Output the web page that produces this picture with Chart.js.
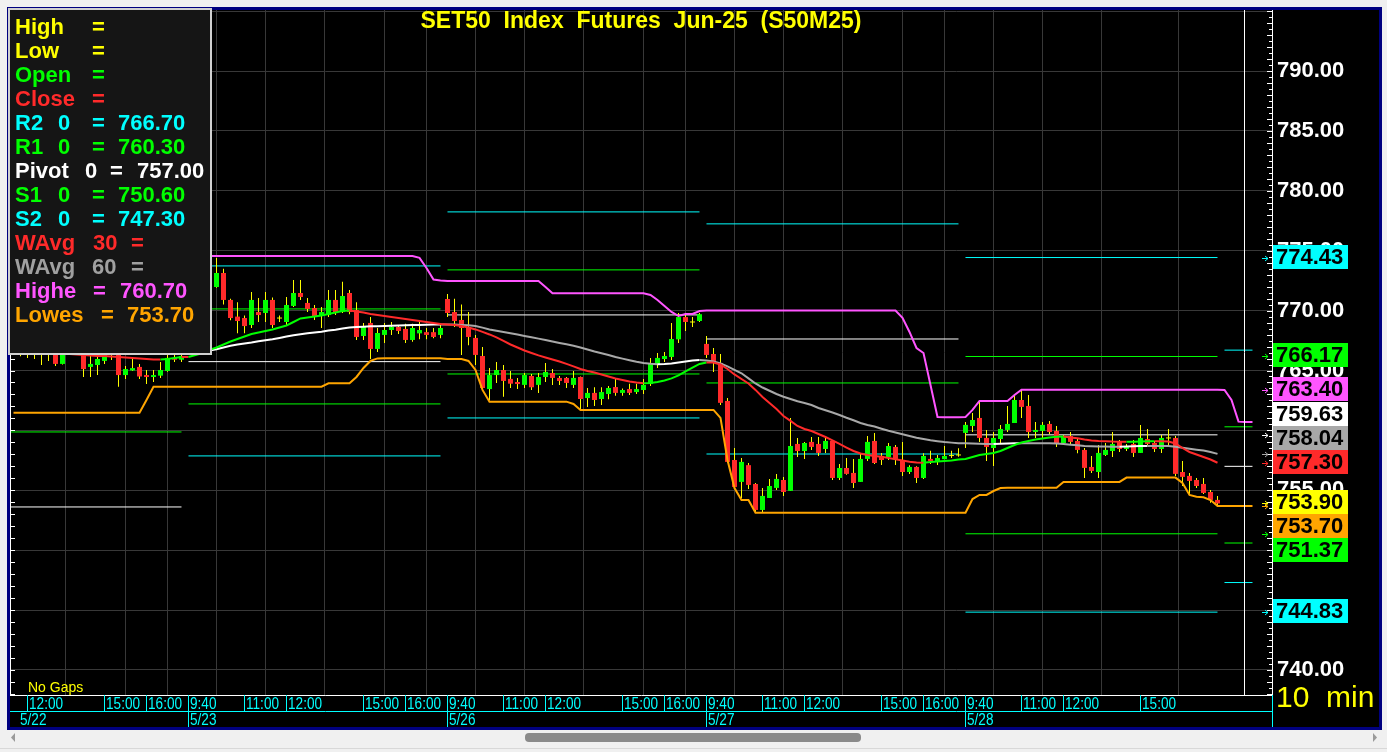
<!DOCTYPE html>
<html>
<head>
<meta charset="utf-8">
<script src="https://cdn.jsdelivr.net/npm/chart.js@4.4.1/dist/chart.umd.min.js"></script>
<style>
  html, body { margin: 0; padding: 0; background: #f0f0f0; overflow: hidden; }
  #wrap { position: absolute; left: 0; top: 0; width: 1387px; height: 752px; }
</style>
</head>
<body>
<div id="wrap"><canvas id="chart" width="1387" height="752"></canvas></div>
<script>
'use strict';

// ---- data (10 min bars, index 0 = 5/22 9:40) ----
const FIRST_BAR = 12;
const dayLabels = ['5/22', '5/23', '5/26', '5/27', '5/28'];
const dayStart = [0, 37, 74, 111, 148, 185];
const dayEnd = [36, 73, 110, 147, 184, 189];

const timeTicks = [14, 25, 31, 37, 45, 51, 62, 68, 74, 82, 88, 99, 105, 111, 119, 125, 136, 142, 148, 156, 162, 173];
const timeLabels = ['12:00', '15:00', '16:00', '9:40', '11:00', '12:00', '15:00', '16:00', '9:40', '11:00', '12:00', '15:00', '16:00',
  '9:40', '11:00', '12:00', '15:00', '16:00', '9:40', '11:00', '12:00', '15:00'];

const openV = [
  766.80, 766.70, 766.50, 766.70, 766.50, 766.50, 766.90, 765.55, 766.60, 767.00, 766.70, 765.30, 765.46, 765.80, 766.60, 766.50, 764.62, 765.00, 765.30, 764.62, 764.46, 764.57, 764.96, 766.05, 765.90,
  767.50, 769.60, 771.60, 773.00, 771.97, 773.14, 770.89, 769.50, 769.38, 768.80, 769.88, 769.80, 770.89, 769.38, 769.05, 770.39, 771.47, 770.64, 770.22, 769.63, 769.63, 770.89, 769.88, 771.47, 770.05, 767.88, 768.97, 766.80, 767.97, 768.38, 768.63, 768.47, 767.55, 768.10, 768.20, 768.20, 767.97,
  770.97, 769.88, 769.22, 768.63, 767.72, 766.21, 763.45, 764.62, 765.04, 764.30, 764.04, 763.80, 764.54, 763.80, 764.46, 764.79, 764.38, 764.38, 763.80, 764.46, 762.70, 763.13, 762.62, 763.04, 763.62, 763.13, 763.45, 763.20, 763.37, 763.87, 765.55, 765.96, 766.13, 767.60, 769.46, 769.05, 769.13,
  767.22, 766.38, 765.63, 762.46, 757.53, 755.70, 757.10, 755.53, 753.36, 754.36, 755.20, 755.86, 754.95, 758.87, 758.28, 759.04, 758.87, 758.45, 759.12, 756.03, 756.86, 756.45, 755.70, 757.62, 759.12, 757.87, 757.78, 758.62, 757.53, 756.53, 756.95, 756.03, 757.62, 757.45, 757.60, 757.90, 757.95,
  759.79, 760.37, 761.04, 759.37, 758.53, 759.28, 760.04, 760.62, 762.54, 762.04, 759.87, 759.96, 760.54, 759.96, 758.95, 759.53, 759.12, 758.37, 756.95, 756.53, 757.95, 758.28, 759.04, 758.45, 758.87, 758.12, 759.28, 758.95, 758.45, 759.37, 759.37, 756.53, 756.20, 755.86, 755.53, 754.86, 754.20
];
const highV = [
  767.00, 767.10, 767.30, 767.20, 766.90, 767.00, 767.20, 767.00, 767.40, 767.50, 767.00, 766.40, 766.40, 766.90, 767.00, 766.70, 765.38, 766.05, 765.55, 765.04, 765.04, 765.70, 766.30, 766.30, 766.60,
  770.00, 772.00, 773.50, 774.57, 774.39, 773.50, 771.00, 770.70, 769.60, 771.55, 771.05, 771.55, 771.10, 769.60, 771.14, 772.56, 772.56, 771.05, 770.47, 770.30, 771.72, 771.72, 772.40, 771.72, 770.70, 768.97, 769.46, 768.55, 768.97, 769.05, 768.80, 768.90, 768.90, 769.05, 768.55, 768.55, 768.80,
  771.39, 771.00, 770.50, 769.88, 767.97, 766.96, 765.20, 765.70, 765.46, 764.96, 764.38, 764.80, 764.70, 764.80, 765.63, 765.12, 764.54, 764.46, 764.96, 764.50, 763.54, 763.60, 763.60, 763.70, 764.30, 763.50, 763.90, 763.90, 764.30, 766.05, 766.46, 766.55, 768.97, 769.80, 769.80, 769.46, 769.80,
  767.89, 766.88, 766.38, 762.70, 758.53, 757.70, 757.28, 755.61, 755.20, 755.95, 756.37, 756.12, 761.04, 759.37, 759.04, 759.45, 759.45, 759.37, 759.20, 757.20, 757.70, 757.62, 758.03, 759.53, 759.79, 758.12, 758.95, 758.78, 759.04, 757.10, 757.00, 758.10, 758.30, 757.95, 758.70, 758.30, 758.50,
  760.71, 761.45, 762.37, 760.04, 759.87, 760.46, 762.04, 762.87, 763.40, 762.96, 760.70, 760.70, 760.79, 760.37, 759.62, 759.87, 759.37, 758.53, 757.87, 758.78, 758.95, 759.87, 759.20, 758.87, 759.20, 760.46, 760.12, 759.12, 759.62, 760.12, 759.53, 757.45, 756.45, 756.03, 756.03, 755.03, 754.53
];
const lowV = [
  766.40, 766.20, 766.04, 765.96, 765.46, 765.80, 765.38, 765.50, 766.40, 766.40, 764.46, 764.46, 764.62, 765.55, 765.88, 763.65, 764.30, 764.96, 764.30, 763.87, 764.04, 764.38, 764.90, 765.70, 765.70,
  767.20, 769.30, 771.20, 772.00, 771.90, 770.50, 769.20, 768.10, 768.10, 768.55, 769.05, 769.05, 768.55, 769.05, 768.80, 770.30, 770.89, 769.88, 769.22, 768.55, 769.46, 769.63, 769.80, 769.70, 767.55, 767.55, 765.97, 766.55, 767.30, 767.97, 768.05, 767.30, 767.40, 767.60, 767.60, 767.70, 767.70,
  769.46, 768.63, 766.30, 767.10, 765.46, 763.37, 762.54, 763.96, 762.80, 763.54, 763.45, 763.54, 763.37, 763.13, 764.04, 763.80, 763.80, 763.54, 763.54, 761.70, 761.96, 762.04, 762.13, 762.60, 762.90, 762.90, 762.96, 763.04, 763.04, 763.70, 765.20, 765.70, 765.88, 767.30, 768.30, 768.63, 769.05,
  766.05, 764.88, 762.13, 757.28, 755.20, 754.36, 755.11, 753.10, 753.10, 754.36, 755.03, 754.53, 754.95, 757.78, 757.62, 758.37, 757.87, 758.12, 755.86, 755.86, 756.30, 755.20, 755.70, 757.45, 757.20, 757.12, 757.53, 757.12, 756.20, 756.37, 755.61, 755.95, 757.20, 757.12, 757.60, 757.70, 757.80,
  758.53, 759.87, 759.04, 757.45, 757.03, 758.87, 759.87, 760.62, 761.04, 759.37, 759.37, 759.28, 759.70, 758.62, 758.87, 758.78, 758.10, 756.03, 756.45, 756.03, 757.87, 757.78, 758.20, 758.28, 757.78, 758.12, 758.78, 758.20, 758.12, 758.62, 756.20, 755.36, 754.70, 755.20, 754.70, 753.96, 753.70
];
const closeV = [
  766.55, 766.40, 766.80, 766.50, 766.40, 766.80, 765.55, 766.60, 767.00, 766.70, 765.12, 765.55, 765.96, 766.50, 766.35, 764.62, 765.12, 765.20, 764.50, 764.46, 764.62, 765.04, 766.05, 765.90, 766.20,
  769.60, 771.60, 773.00, 772.10, 773.14, 770.89, 769.38, 769.13, 768.71, 770.89, 769.63, 770.89, 768.80, 769.38, 770.47, 771.47, 771.14, 770.14, 769.55, 769.88, 770.89, 769.88, 771.22, 769.88, 767.80, 768.63, 766.80, 768.13, 768.38, 768.63, 768.30, 767.55, 768.55, 768.38, 767.97, 767.80, 768.55,
  769.80, 769.13, 768.55, 767.80, 766.30, 763.54, 764.62, 765.04, 764.13, 763.90, 763.87, 764.62, 763.60, 764.46, 764.88, 764.38, 764.13, 763.96, 764.38, 762.62, 763.13, 762.54, 763.20, 763.54, 763.13, 763.37, 763.13, 763.45, 763.80, 765.63, 766.05, 766.21, 767.63, 769.46, 769.05, 769.05, 769.70,
  766.30, 765.63, 762.30, 757.37, 755.28, 757.37, 755.45, 753.36, 754.53, 755.36, 755.95, 754.86, 758.70, 758.28, 758.95, 758.62, 758.12, 759.12, 756.03, 756.86, 756.37, 755.61, 757.62, 759.04, 757.28, 757.53, 758.70, 757.62, 756.53, 756.95, 756.03, 757.87, 757.45, 757.70, 757.87, 757.90, 757.95,
  760.46, 760.87, 759.37, 758.62, 759.37, 760.12, 760.54, 762.54, 761.96, 759.87, 760.04, 760.46, 759.87, 758.95, 759.53, 759.04, 758.37, 756.87, 756.62, 758.12, 758.37, 758.87, 758.45, 758.70, 758.12, 759.37, 758.87, 758.45, 759.37, 759.37, 756.37, 756.12, 755.78, 755.36, 754.78, 754.20, 753.90
];

const wavg30 = [
  766.55, 766.55, 766.51, 766.46, 766.46, 766.42, 766.38, 766.38, 766.38, 766.34, 766.30, 766.26, 766.21, 766.21, 766.17, 766.13, 766.09, 766.05, 766.01, 765.96, 765.92, 765.92, 765.96, 766.05, 766.13,
  766.13, 766.30, 766.46, 766.72, 766.92, 767.17, 767.42, 767.63, 767.84, 768.05, 768.18, 768.30, 768.43, 768.59, 768.76, 769.05, 769.35, 769.43, 769.51, 769.60, 769.72, 769.85, 769.97, 770.01, 769.93, 769.85, 769.72, 769.64, 769.55, 769.47, 769.39, 769.30, 769.22, 769.14, 769.05, 768.97, 768.89,
  768.85, 768.80, 768.72, 768.59, 768.43, 768.22, 768.01, 767.76, 767.47, 767.17, 766.92, 766.67, 766.46, 766.26, 766.09, 765.92, 765.75, 765.55, 765.34, 765.13, 764.96, 764.84, 764.67, 764.50, 764.34, 764.21, 764.09, 764.00, 763.93, 763.96, 764.04, 764.17, 764.34, 764.59, 764.92, 765.25, 765.55,
  765.67, 765.67, 765.50, 765.13, 764.67, 764.29, 763.92, 763.38, 762.79, 762.29, 761.79, 761.20, 760.79, 760.37, 760.12, 759.95, 759.70, 759.45, 759.16, 758.87, 758.57, 758.28, 758.07, 757.95, 757.86, 757.81, 757.70, 757.59, 757.49, 757.39, 757.32, 757.30, 757.36, 757.40, 757.45, 757.49, 757.57,
  757.61, 757.78, 757.95, 758.03, 758.11, 758.28, 758.53, 758.78, 758.99, 759.12, 759.24, 759.33, 759.41, 759.48, 759.49, 759.41, 759.34, 759.24, 759.16, 759.12, 759.10, 759.07, 759.06, 759.05, 759.06, 759.07, 759.09, 759.10, 759.10, 759.07, 758.91, 758.53, 758.20, 757.99, 757.78, 757.57, 757.30
];
const wavg60 = [
  766.38, 766.38, 766.38, 766.38, 766.38, 766.38, 766.38, 766.38, 766.42, 766.42, 766.42, 766.42, 766.42, 766.42, 766.42, 766.46, 766.46, 766.46, 766.46, 766.46, 766.51, 766.51, 766.51, 766.55, 766.55,
  766.55, 766.59, 766.63, 766.67, 766.77, 766.92, 767.07, 767.17, 767.26, 767.34, 767.44, 767.53, 767.61, 767.72, 767.83, 767.94, 768.03, 768.11, 768.18, 768.24, 768.33, 768.41, 768.51, 768.59, 768.64, 768.66, 768.69, 768.70, 768.72, 768.74, 768.75, 768.77, 768.79, 768.80, 768.82, 768.84, 768.85,
  768.85, 768.83, 768.80, 768.77, 768.72, 768.58, 768.43, 768.32, 768.22, 768.11, 768.00, 767.88, 767.77, 767.66, 767.55, 767.42, 767.30, 767.19, 767.07, 766.92, 766.76, 766.59, 766.44, 766.30, 766.13, 765.99, 765.86, 765.73, 765.63, 765.57, 765.53, 765.55, 765.59, 765.67, 765.75, 765.84, 765.88,
  765.84, 765.75, 765.59, 765.34, 765.05, 764.77, 764.34, 763.92, 763.58, 763.31, 763.04, 762.81, 762.62, 762.44, 762.29, 762.12, 761.87, 761.68, 761.50, 761.29, 761.06, 760.85, 760.62, 760.45, 760.32, 760.14, 759.97, 759.83, 759.68, 759.53, 759.39, 759.28, 759.17, 759.10, 759.03, 758.98, 758.93,
  758.92, 758.90, 758.88, 758.87, 758.87, 758.88, 758.90, 758.92, 758.93, 758.93, 758.93, 758.93, 758.92, 758.90, 758.87, 758.81, 758.76, 758.70, 758.68, 758.66, 758.65, 758.64, 758.64, 758.65, 758.67, 758.69, 758.70, 758.70, 758.70, 758.70, 758.64, 758.55, 758.47, 758.39, 758.32, 758.20, 758.04
];
// highest high / lowest low, five extra points into the next session
const highe = [
  774.56, 774.56, 774.56, 774.56, 774.56, 774.56, 774.56, 774.56, 774.56, 774.56, 774.56, 774.56, 774.56, 774.56, 774.56, 774.56, 774.56, 774.56, 774.56, 774.56, 774.56, 774.56, 774.56, 774.56, 774.56,
  774.56, 774.56, 774.56, 774.56, 774.56, 774.56, 774.56, 774.56, 774.56, 774.56, 774.56, 774.56, 774.56, 774.56, 774.56, 774.56, 774.56, 774.56, 774.56, 774.56, 774.56, 774.56, 774.56, 774.56, 774.56, 774.56, 774.56, 774.56, 774.56, 774.56, 774.56, 774.56, 774.56, 774.40, 773.56, 772.60, 772.52,
  772.48, 772.48, 772.48, 772.48, 772.48, 772.48, 772.48, 772.48, 772.48, 772.48, 772.48, 772.48, 772.48, 772.48, 771.98, 771.45, 771.45, 771.45, 771.45, 771.45, 771.45, 771.45, 771.45, 771.45, 771.45, 771.45, 771.45, 771.45, 771.45, 771.31, 770.89, 770.39, 769.89, 769.55, 769.72, 769.72, 769.97,
  770.00, 770.00, 770.00, 770.00, 770.00, 770.00, 770.00, 770.00, 770.00, 770.00, 770.00, 770.00, 770.00, 770.00, 770.00, 770.00, 770.00, 770.00, 770.00, 770.00, 770.00, 770.00, 770.00, 770.00, 770.00, 770.00, 770.00, 770.00, 769.39, 768.22, 766.88, 766.46, 763.79, 761.12, 761.10, 761.10, 761.10,
  761.12, 761.71, 762.46, 762.46, 762.46, 762.46, 762.46, 762.96, 763.40, 763.40, 763.40, 763.40, 763.40, 763.40, 763.40, 763.40, 763.40, 763.40, 763.40, 763.40, 763.40, 763.40, 763.40, 763.40, 763.40, 763.40, 763.40, 763.40, 763.40, 763.40, 763.40, 763.40, 763.40, 763.40, 763.40, 763.40, 763.40,
  763.37, 762.54, 760.73, 760.70, 760.70
];
const lowes = [
  761.48, 761.48, 761.48, 761.48, 761.48, 761.48, 761.48, 761.48, 761.48, 761.48, 761.48, 761.48, 761.48, 761.48, 761.48, 761.48, 761.48, 761.48, 761.48, 762.54, 763.65, 763.65, 763.65, 763.65, 763.65,
  763.65, 763.65, 763.65, 763.65, 763.65, 763.65, 763.65, 763.65, 763.65, 763.65, 763.65, 763.65, 763.65, 763.65, 763.65, 763.65, 763.65, 763.65, 763.65, 763.65, 763.93, 763.93, 763.93, 763.93, 764.46, 765.21, 765.80, 766.01, 766.02, 766.02, 766.02, 766.02, 766.02, 766.02, 766.02, 766.02, 766.02,
  765.96, 765.96, 765.96, 765.80, 765.05, 763.38, 762.40, 762.40, 762.40, 762.40, 762.40, 762.40, 762.40, 762.40, 762.40, 762.40, 762.40, 762.40, 762.21, 761.71, 761.71, 761.71, 761.71, 761.71, 761.71, 761.71, 761.71, 761.71, 761.71, 761.71, 761.71, 761.71, 761.71, 761.71, 761.71, 761.71, 761.71,
  761.71, 761.71, 761.04, 757.53, 755.19, 754.19, 754.19, 753.13, 753.13, 753.13, 753.13, 753.13, 753.13, 753.13, 753.13, 753.13, 753.13, 753.13, 753.13, 753.13, 753.13, 753.13, 753.13, 753.13, 753.13, 753.13, 753.13, 753.13, 753.13, 753.13, 753.13, 753.13, 753.13, 753.13, 753.13, 753.13, 753.13,
  753.13, 754.27, 754.61, 754.61, 754.94, 755.19, 755.22, 755.22, 755.22, 755.22, 755.22, 755.22, 755.22, 755.22, 755.70, 755.70, 755.70, 755.70, 755.70, 755.70, 755.70, 755.70, 755.70, 756.06, 756.06, 756.06, 756.06, 756.06, 756.06, 756.06, 756.06, 755.61, 754.61, 754.47, 754.42, 754.19, 753.70,
  753.70, 753.70, 753.70, 753.70, 753.70
];

// daily pivot levels: 5/22, 5/23, 5/26, 5/27, 5/28, next session
const levelR2 = [null, 773.73, 778.24, 777.24, 774.43, 766.70];
const levelR1 = [759.87, 770.14, 773.40, null, 766.17, 760.30];
const levelP = [753.61, 765.74, 769.64, 767.63, 759.63, 757.00];
const levelS1 = [null, 762.21, 764.71, 763.96, 751.37, 750.60];
const levelS2 = [null, 757.87, 761.04, 758.03, 744.83, 747.30];

// right side value tags
const tagValues = [774.43, 766.17, 763.40, 759.63, 758.04, 757.30, 753.90, 753.70, 751.37, 744.83];
const tagColors = ['#00ffff', '#00ff00', '#ff55ff', '#ffffff', '#a8a8a8', '#ff2a2a', '#ffff00', '#ffa500', '#00ff00', '#00ffff'];
const LAST_TAG = 6;

const yTicks = [740, 745, 750, 755, 760, 765, 770, 775, 780, 785, 790, 795];
const CURSOR_G = 187.8;

// ---- colours ----
const YEL = '#ffff00', GRN = '#00ff00', RED = '#ff2a2a', CYN = '#00ffff', WHT = '#ffffff', GRY = '#a8a8a8', MAG = '#ff55ff', ORG = '#ffa500';
const BOLD = 'bold 22px "Liberation Sans", Arial, sans-serif';
const LABEL_FONT = '17px "Liberation Sans", Arial, sans-serif';

function pts(arr) {
  return arr.map(function (v, i) { return { x: FIRST_BAR + i, y: v }; });
}

function levelPts(arr) {
  var out = [];
  arr.forEach(function (v, d) {
    if (v == null) return;
    out.push({ x: dayStart[d], y: v }, { x: dayEnd[d], y: v }, { x: dayEnd[d] + 0.5, y: null });
  });
  return out;
}

var bodies = openV.map(function (o, i) {
  var c = closeV[i];
  return { x: FIRST_BAR + i, y: o === c ? [o - 0.04, o + 0.04] : [o, c] };
});
var wicks = lowV.map(function (l, i) { return { x: FIRST_BAR + i, y: [l, highV[i]] }; });

function lvl(label, arr, color) {
  return { type: 'line', label: label, data: levelPts(arr), borderColor: color, borderWidth: 1, pointRadius: 0, spanGaps: false, order: 10 };
}

// narrow text: the platform font is condensed, squeeze a normal one
function narrowText(ctx, text, x, y) {
  ctx.save();
  ctx.translate(x, y);
  ctx.scale(0.8, 1);
  ctx.fillText(text, 0, 0);
  ctx.restore();
}

// ---- drawing helpers (frame, legend box, labels) ----
const framePlugin = {
  id: 'frame',
  beforeDraw: function (chart) {
    var ctx = chart.ctx;
    ctx.save();
    ctx.fillStyle = '#f0f0f0';
    ctx.fillRect(0, 0, 1387, 752);
    ctx.fillStyle = '#000080';
    ctx.fillRect(7, 7, 1375, 723);
    ctx.fillStyle = '#000000';
    ctx.fillRect(10, 10, 1369, 717);
    // scrollbar
    ctx.fillStyle = '#8a8a8a';
    ctx.beginPath();
    ctx.roundRect(525, 733, 336, 9, 4);
    ctx.fill();
    ctx.fillStyle = '#9a9a9a';
    ctx.beginPath(); ctx.moveTo(11, 737.5); ctx.lineTo(15, 733); ctx.lineTo(15, 742); ctx.fill();
    ctx.beginPath(); ctx.moveTo(1377, 737.5); ctx.lineTo(1373, 733); ctx.lineTo(1373, 742); ctx.fill();
    ctx.fillStyle = '#d8d8d8';
    ctx.fillRect(0, 748, 1387, 1);
    ctx.restore();
  },
  afterDraw: function (chart) {
    var ctx = chart.ctx, ys = chart.scales.y, xs = chart.scales.x, area = chart.chartArea;
    ctx.save();

    // cursor line
    var cx = Math.round(xs.getPixelForValue(CURSOR_G)) + 0.5;
    ctx.strokeStyle = WHT; ctx.lineWidth = 1;
    ctx.beginPath(); ctx.moveTo(cx, area.top); ctx.lineTo(cx, area.bottom); ctx.stroke();

    // minor ticks on right axis and left edge
    ctx.beginPath();
    ctx.moveTo(area.left + 0.5, area.top); ctx.lineTo(area.left + 0.5, area.bottom);
    for (var v = 738; v <= 795; v += 0.5) {
      var py = Math.round(ys.getPixelForValue(v)) + 0.5;
      var len = (v % 1 === 0) ? 5 : 3;
      ctx.moveTo(area.right - len, py); ctx.lineTo(area.right, py);
      if (v % 1 === 0) { ctx.moveTo(area.left, py); ctx.lineTo(area.left + 5, py); }
    }
    ctx.stroke();

    // time / date rows
    ctx.strokeStyle = CYN;
    ctx.beginPath();
    ctx.moveTo(area.left, 711.5); ctx.lineTo(area.right, 711.5);
    ctx.moveTo(area.right + 0.5, area.bottom); ctx.lineTo(area.right + 0.5, 727);
    timeTicks.forEach(function (t) {
      var px = Math.round(xs.getPixelForValue(t)) + 0.5;
      var isDay = dayStart.indexOf(t) >= 0;
      ctx.moveTo(px, area.bottom); ctx.lineTo(px, isDay ? 727 : 711);
    });
    ctx.stroke();
    ctx.fillStyle = CYN;
    ctx.font = LABEL_FONT;
    ctx.textBaseline = 'middle';
    ctx.textAlign = 'left';
    timeTicks.forEach(function (t, i) {
      narrowText(ctx, timeLabels[i], Math.round(xs.getPixelForValue(t)) + 2, 704);
    });
    dayLabels.forEach(function (lab, d) {
      var px = xs.getPixelForValue(dayStart[d]);
      if (px < area.left) px = area.left + 8;
      narrowText(ctx, lab, Math.round(px) + 2, 720);
    });

    // title
    ctx.fillStyle = YEL;
    ctx.font = 'bold 23px "Liberation Sans", Arial, sans-serif';
    ctx.textAlign = 'center';
    ctx.fillText('SET50  Index  Futures  Jun-25  (S50M25)', 641, 22);

    // No Gaps / 10 min
    ctx.textAlign = 'left';
    ctx.font = '14px "Liberation Sans", Arial, sans-serif';
    ctx.fillText('No Gaps', 28, 688);
    ctx.font = '30px "Liberation Sans", Arial, sans-serif';
    ctx.fillText('10  min', 1276, 699);

    // value tags on the right axis
    var slot = tagValues.map(function (t) { return ys.getPixelForValue(t); });
    for (var i = LAST_TAG - 1; i >= 0; i--) slot[i] = Math.min(slot[i], slot[i + 1] - 24);
    for (var j = LAST_TAG + 1; j < slot.length; j++) slot[j] = Math.max(slot[j], slot[j - 1] + 24);
    ctx.font = BOLD;
    tagValues.forEach(function (t, k) {
      var ay = Math.round(ys.getPixelForValue(t)) + 0.5;
      ctx.strokeStyle = tagColors[k];
      ctx.beginPath();
      ctx.moveTo(1262, ay); ctx.lineTo(1268, ay);
      ctx.moveTo(1265, ay - 2.5); ctx.lineTo(1268, ay); ctx.lineTo(1265, ay + 2.5);
      ctx.stroke();
      var sy = Math.round(slot[k]) - 1;
      ctx.fillStyle = tagColors[k];
      ctx.fillRect(1273, sy - 12, 75, 24);
      ctx.fillStyle = '#000000';
      ctx.fillText(t.toFixed(2), 1276, sy + 1);
    });

    // info box
    ctx.fillStyle = '#151515';
    ctx.fillRect(8, 8, 204, 347);
    ctx.strokeStyle = '#d0d0d0'; ctx.lineWidth = 2;
    ctx.strokeRect(9, 9, 202, 345);
    var lastH = highe[highe.length - 1].toFixed(2), lastL = lowes[lowes.length - 1].toFixed(2);
    var rows = [
      [YEL, ['High', 15], ['=', 92]],
      [YEL, ['Low', 15], ['=', 92]],
      [GRN, ['Open', 15], ['=', 92]],
      [RED, ['Close', 15], ['=', 92]],
      [CYN, ['R2', 15], ['0', 58], ['=', 92], [levelR2[5].toFixed(2), 118]],
      [GRN, ['R1', 15], ['0', 58], ['=', 92], [levelR1[5].toFixed(2), 118]],
      [WHT, ['Pivot', 15], ['0', 85], ['=', 110], [levelP[5].toFixed(2), 137]],
      [GRN, ['S1', 15], ['0', 58], ['=', 92], [levelS1[5].toFixed(2), 118]],
      [CYN, ['S2', 15], ['0', 58], ['=', 92], [levelS2[5].toFixed(2), 118]],
      [RED, ['WAvg', 15], ['30', 93], ['=', 131]],
      ['#a0a0a0', ['WAvg', 15], ['60', 92], ['=', 131]],
      [MAG, ['Highe', 15], ['=', 93], [lastH, 120]],
      [ORG, ['Lowes', 15], ['=', 101], [lastL, 127]]
    ];
    ctx.font = BOLD;
    rows.forEach(function (r, n) {
      ctx.fillStyle = r[0];
      for (var q = 1; q < r.length; q++) ctx.fillText(r[q][0], r[q][1], 27.5 + n * 24.05);
    });
    ctx.restore();
  }
};

var chart = new Chart(document.getElementById('chart'), {
  type: 'bar',
  data: {
    datasets: [
      lvl('R2', levelR2, CYN), lvl('R1', levelR1, GRN), lvl('Pivot', levelP, WHT), lvl('S1', levelS1, GRN), lvl('S2', levelS2, CYN),
      { type: 'line', label: 'Lowes', data: pts(lowes), borderColor: ORG, borderWidth: 2, pointRadius: 0, order: 6 },
      { type: 'line', label: 'Highe', data: pts(highe), borderColor: MAG, borderWidth: 2, pointRadius: 0, order: 6 },
      { type: 'bar', label: 'wick', data: wicks, backgroundColor: YEL, barThickness: 1, grouped: false, inflateAmount: 0, order: 9 },
      {
        type: 'bar', label: 'body', data: bodies, barThickness: 5, grouped: false, inflateAmount: 0, order: 8,
        backgroundColor: function (c) {
          var i = c.dataIndex;
          if (openV[i] === closeV[i]) return YEL;
          return closeV[i] > openV[i] ? GRN : RED;
        }
      },
      {
        type: 'line', label: 'WAvg 60', data: pts(wavg60), borderWidth: 2, pointRadius: 0, order: 5, borderColor: GRY,
        segment: { borderColor: function (s) { return s.p1.parsed.y > s.p0.parsed.y ? WHT : GRY; } }
      },
      {
        type: 'line', label: 'WAvg 30', data: pts(wavg30), borderWidth: 2, pointRadius: 0, order: 4, borderColor: RED,
        segment: { borderColor: function (s) { return s.p1.parsed.y > s.p0.parsed.y ? GRN : RED; } }
      }
    ]
  },
  options: {
    responsive: false,
    animation: false,
    events: [],
    layout: { padding: { left: 10, top: 10, right: 8, bottom: 25 } },
    plugins: { legend: { display: false }, tooltip: { enabled: false }, title: { display: false } },
    scales: {
      x: {
        type: 'linear', offset: false, min: 11.5, max: 191.786,
        afterBuildTicks: function (s) { s.ticks = timeTicks.map(function (t) { return { value: t }; }); },
        afterFit: function (s) { s.height = 32; s.paddingLeft = 0; s.paddingRight = 0; },
        grid: { color: '#383838', drawTicks: false },
        border: { display: true, color: WHT },
        ticks: { display: false, autoSkip: false, maxRotation: 0 }
      },
      y: {
        type: 'linear', position: 'right', min: 737.913, max: 795.093,
        afterBuildTicks: function (s) { s.ticks = yTicks.map(function (t) { return { value: t }; }); },
        afterFit: function (s) { s.width = 107; s.paddingTop = 0; s.paddingBottom = 0; },
        grid: { color: '#383838', drawTicks: false },
        border: { display: true, color: WHT },
        ticks: {
          padding: 5, color: WHT, font: { family: '"Liberation Sans", Arial, sans-serif', size: 22, weight: 'bold' },
          callback: function (v) { return v === 795 ? '' : v.toFixed(2); }
        }
      }
    }
  },
  plugins: [framePlugin]
});
</script>
</body>
</html>
